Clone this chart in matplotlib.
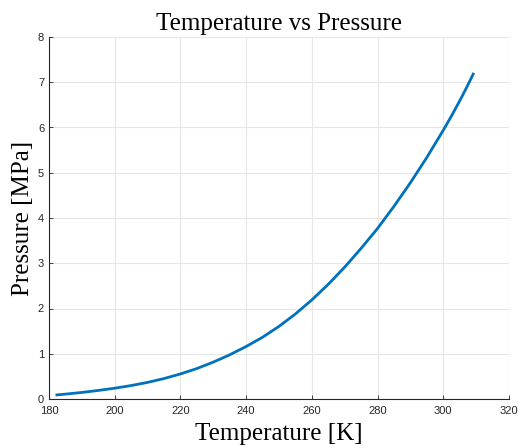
import matplotlib
matplotlib.use('Agg')
import matplotlib.pyplot as plt

# 값은 그림에서 읽은 추정치
temperature = [182.4, 185, 190, 195, 200, 205, 210, 215, 220, 225, 230, 235, 240, 245, 250,
               255, 260, 265, 270, 275, 280, 285, 290, 295, 300, 302.5, 305, 307, 309.1]
pressure = [0.09, 0.108, 0.145, 0.189, 0.239, 0.297, 0.367, 0.452, 0.554, 0.673, 0.815, 0.977, 1.16,
            1.365, 1.605, 1.88, 2.19, 2.535, 2.915, 3.33, 3.77, 4.26, 4.78, 5.34, 5.94, 6.255, 6.59, 6.87, 7.18]

xticks = [180, 200, 220, 240, 260, 280, 300, 320]
yticks = [0, 1, 2, 3, 4, 5, 6, 7, 8]

fig = plt.figure(figsize=(5.19, 4.48), dpi=100)
ax = fig.add_axes([49 / 519, 1 - 399 / 448, 460 / 519, 362 / 448])

ax.plot(temperature, pressure, color='#0072BD', linewidth=2.0)

ax.set_xlim(180, 320)
ax.set_ylim(0, 8)
ax.set_xticks(xticks)
ax.set_yticks(yticks)
ax.grid(True, color='#e6e6e6', linewidth=0.8)
ax.set_axisbelow(True)

for side in ['top', 'right']:
    ax.spines[side].set_visible(False)
for side in ['left', 'bottom']:
    ax.spines[side].set_color('#262626')
    ax.spines[side].set_linewidth(0.8)

ax.tick_params(direction='in', length=3, width=0.6, colors='#262626', labelsize=8)
ax.tick_params(axis='x', pad=5)
for lab in ax.get_xticklabels() + ax.get_yticklabels():
    lab.set_family('Liberation Sans')

serif = 'Liberation Serif'
ax.set_title('Temperature vs Pressure', family=serif, fontsize=18, pad=5)
ax.set_xlabel('Temperature [K]', family=serif, fontsize=18, labelpad=5)
ax.set_ylabel('Pressure [MPa]', family=serif, fontsize=18, labelpad=3)

fig.savefig('out.png', dpi=100)
